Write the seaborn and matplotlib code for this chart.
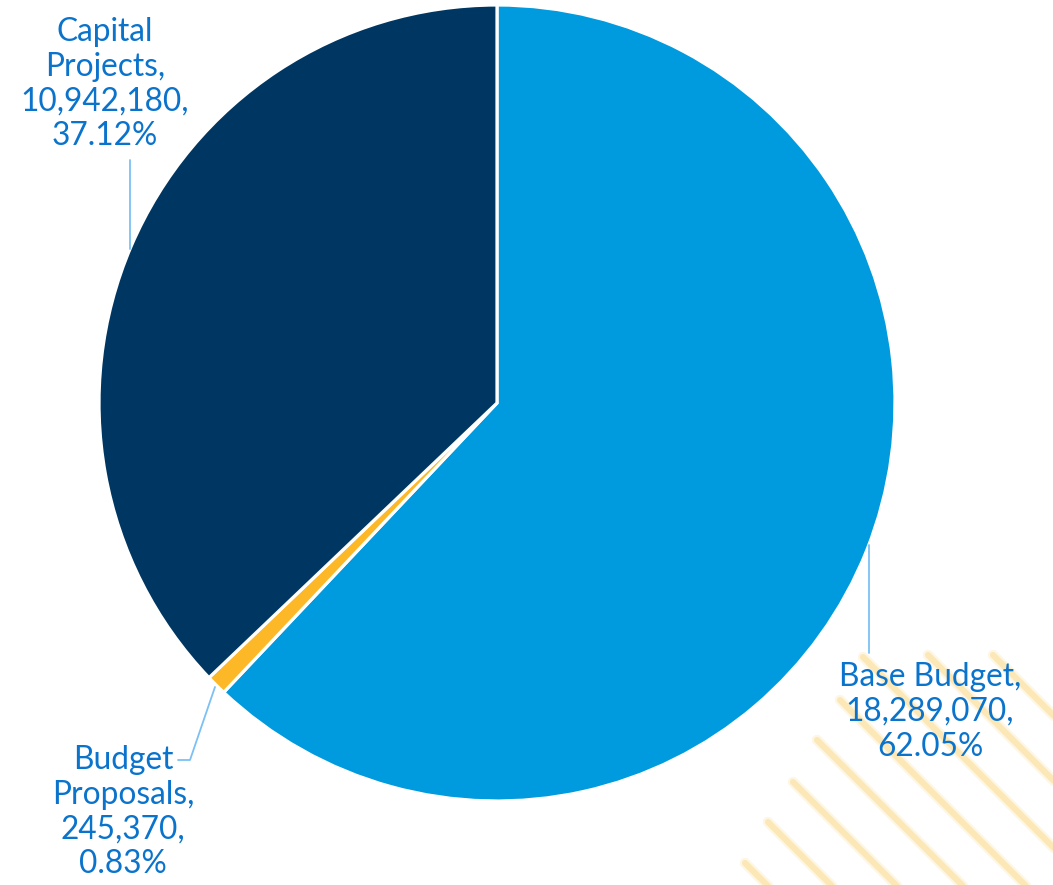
import matplotlib
matplotlib.use("Agg")
import matplotlib.pyplot as plt
import seaborn as sns

sns.set_theme(style="white")
plt.rcParams["font.family"] = ["Lato", "DejaVu Sans"]

# Budget composition
categories = ["Base Budget", "Budget Proposals", "Capital Projects"]
amounts = [18289070, 245370, 10942180]
percents = ["62.05%", "0.83%", "37.12%"]
colors = ["#009ADE", "#FDB827", "#003662"]

W, H = 1053, 885
fig = plt.figure(figsize=(W / 100, H / 100), dpi=100)
ax = fig.add_axes([0, 0, 1, 1])


def py(y):
    """Convert a top-down pixel row to the axes' bottom-up coordinate."""
    return H - y


# Decorative diagonal stripes in the lower-right corner
stripe_starts = [(745, 863), (768, 822), (793, 782), (817, 740), (840, 700),
                 (863, 657), (928, 655), (993, 655)]
for sx, sy in stripe_starts:
    length = max(W - sx, H - sy) + 20
    # soft halo under each stripe
    ax.plot([sx, sx + length], [py(sy), py(sy + length)],
            color="#FEF1D2", lw=7.5, solid_capstyle="round", alpha=0.6,
            zorder=0)
    ax.plot([sx, sx + length], [py(sy), py(sy + length)],
            color="#FCE6B0", lw=4.4, solid_capstyle="round", alpha=0.85,
            zorder=0)

# Pie
cx, cy, r = 497, 403, 398
wedges, _ = ax.pie(amounts, colors=colors, startangle=90, counterclock=False,
                   center=(cx, py(cy)), radius=r,
                   wedgeprops=dict(edgecolor="white", linewidth=2.3))
for w in wedges:
    w.set_zorder(2)

label_color = "#0A73CC"
leader_color = "#7CC0F4"
fs = 22.8

labels = [f"{c},\n{a:,},\n{p}" for c, a, p in zip(categories, amounts, percents)]
label_pos = [(930, 712), (123, 812), (105, 84)]
for text, (tx, ty) in zip(labels, label_pos):
    if text.startswith("Budget Proposals"):
        text = text.replace("Budget Proposals", "Budget\nProposals")
    if text.startswith("Capital Projects"):
        text = text.replace("Capital Projects", "Capital\nProjects")
    ax.text(tx, py(ty), text, ha="center", va="center", multialignment="center",
            fontsize=fs, color=label_color, linespacing=1.2, zorder=5)

# Leader lines
ax.plot([869, 869], [py(545), py(653)], color=leader_color, lw=1.3, zorder=3)
ax.plot([130, 130], [py(249), py(160)], color=leader_color, lw=1.3, zorder=3)
ax.plot([215, 190, 178], [py(687), py(760), py(760)], color=leader_color,
        lw=1.3, zorder=3)

ax.set_xlim(0, W)
ax.set_ylim(0, H)
ax.set_aspect("equal")
ax.axis("off")

fig.savefig("out.png", dpi=100, facecolor="white")
